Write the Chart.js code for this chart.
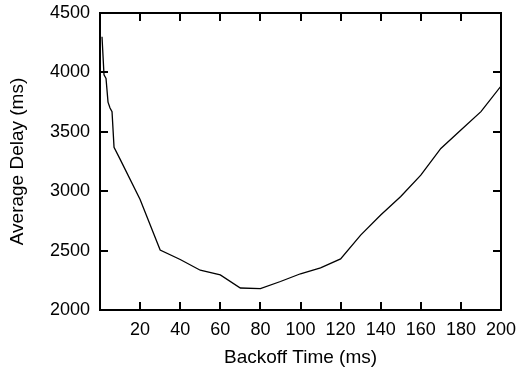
<!DOCTYPE html>
<html>
<head>
<meta charset="utf-8">
<script src="https://cdn.jsdelivr.net/npm/chart.js@4/dist/chart.umd.min.js"></script>
<style>
  html, body { margin: 0; padding: 0; background: #fff; }
  #wrap { width: 519px; height: 369px; }
</style>
</head>
<body>
<div id="wrap"><canvas id="delayChart" width="519" height="369"></canvas></div>
<script>
// Datos
const backoffMs = [1, 2, 3, 4, 5, 6, 7, 10, 20, 30, 40, 50, 60, 70, 80, 90, 100, 110, 120, 130, 140, 150, 160, 170, 180, 190, 200];
const avgDelayMs = [4300, 3980, 3950, 3750, 3700, 3670, 3370, 3270, 2930, 2505, 2425, 2335, 2295, 2185, 2180, 2240, 2305, 2355, 2430, 2630, 2800, 2955, 3135, 3360, 3515, 3670, 3885];
const xTicks = [20, 40, 60, 80, 100, 120, 140, 160, 180, 200];
const yTicks = [2000, 2500, 3000, 3500, 4000, 4500];

const FONT = '"Liberation Sans", Arial, Helvetica, sans-serif';
const TICK_LEN = 8;

// marco y marcas hacia dentro en los cuatro lados
const frameTicks = {
    id: 'frameTicks',
    afterDatasetsDraw(chart) {
        const { ctx, chartArea: a, scales: { x, y } } = chart;
        ctx.save();
        ctx.strokeStyle = '#000';
        ctx.lineWidth = 2;
        ctx.beginPath();
        x.ticks.forEach(t => {
            if (t.value <= x.min || t.value >= x.max) return;
            const px = Math.round(x.getPixelForValue(t.value));
            ctx.moveTo(px, a.bottom); ctx.lineTo(px, a.bottom - TICK_LEN);
            ctx.moveTo(px, a.top); ctx.lineTo(px, a.top + TICK_LEN);
        });
        y.ticks.forEach(t => {
            if (t.value <= y.min || t.value >= y.max) return;
            const py = Math.round(y.getPixelForValue(t.value));
            ctx.moveTo(a.left, py); ctx.lineTo(a.left + TICK_LEN, py);
            ctx.moveTo(a.right, py); ctx.lineTo(a.right - TICK_LEN, py);
        });
        ctx.stroke();
        ctx.strokeRect(a.left, a.top, a.right - a.left, a.bottom - a.top);
        ctx.restore();
    }
};

const ctx = document.getElementById('delayChart').getContext('2d');
new Chart(ctx, {
    type: 'line',
    data: {
        datasets: [{
            data: backoffMs.map((v, i) => ({ x: v, y: avgDelayMs[i] })),
            borderColor: '#000',
            borderWidth: 1.3,
            pointRadius: 0,
            tension: 0,
            fill: false
        }]
    },
    options: {
        responsive: false,
        animation: false,
        devicePixelRatio: 1,
        layout: { padding: { top: 13, right: 18, left: 0, bottom: 0 } },
        plugins: { legend: { display: false }, tooltip: { enabled: false } },
        scales: {
            x: {
                type: 'linear',
                min: 0,
                max: 200,
                afterBuildTicks: s => { s.ticks = xTicks.map(v => ({ value: v })); },
                afterFit: s => { s.height = 59; s.paddingLeft = 0; s.paddingRight = 0; },
                grid: { display: false, drawTicks: false },
                border: { display: false },
                ticks: { color: '#000', font: { family: FONT, size: 18 }, padding: 9, maxRotation: 0 },
                title: {
                    display: true,
                    text: 'Backoff Time (ms)',
                    color: '#000',
                    font: { family: FONT, size: 19 },
                    padding: { top: 2, bottom: 0 }
                }
            },
            y: {
                min: 2000,
                max: 4500,
                afterBuildTicks: s => { s.ticks = yTicks.map(v => ({ value: v })); },
                afterFit: s => { s.width = 100; s.paddingTop = 0; s.paddingBottom = 0; },
                grid: { display: false, drawTicks: false },
                border: { display: false },
                ticks: {
                    color: '#000',
                    font: { family: FONT, size: 18 },
                    padding: 10,
                    callback: v => String(v)
                },
                title: {
                    display: true,
                    text: 'Average Delay (ms)',
                    color: '#000',
                    font: { family: FONT, size: 19 },
                    padding: { top: 6, bottom: 0 }
                }
            }
        }
    },
    plugins: [frameTicks]
});
</script>
</body>
</html>
